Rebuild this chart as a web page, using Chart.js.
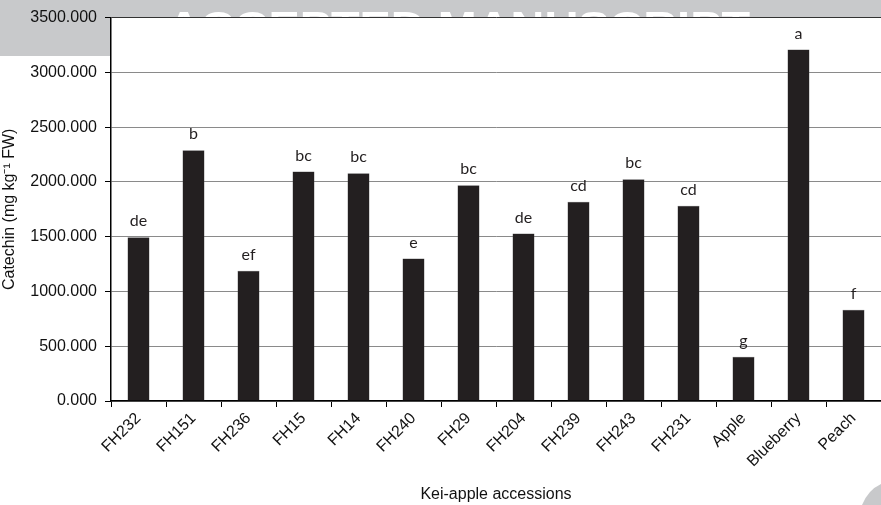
<!DOCTYPE html>
<html>
<head>
<meta charset="utf-8">
<script src="https://cdn.jsdelivr.net/npm/chart.js@4/dist/chart.umd.min.js"></script>
<style>
  html, body { margin: 0; padding: 0; background: #fff; }
  #wrap { width: 881px; height: 505px; }
</style>
</head>
<body>
<div id="wrap"><canvas id="catechinChart" width="881" height="505"></canvas></div>
<script>
// accessions on the x axis
const accessions = ["FH232", "FH151", "FH236", "FH15", "FH14", "FH240", "FH29",
  "FH204", "FH239", "FH243", "FH231", "Apple", "Blueberry", "Peach"];
// catechin values (mg kg-1 FW)
const catechin = [1495, 2290, 1190, 2095, 2080, 1300, 1970,
  1530, 1818, 2024, 1782, 403, 3209, 833];
// significance letters above each bar
const letters = ["de", "b", "ef", "bc", "bc", "e", "bc",
  "de", "cd", "bc", "cd", "g", "a", "f"];
// y axis ticks
const yTicks = [0, 500, 1000, 1500, 2000, 2500, 3000, 3500];

const axisFont = { family: "'Liberation Sans', Arial, sans-serif", size: 16 };
const GRAY = "#c8c9cb";

// gray watermark band + white "ACCEPTED MANUSCRIPT" behind the plot
const watermark = {
  id: "watermark",
  beforeDraw(chart) {
    const c = chart.ctx;
    const top = chart.chartArea.top;
    const left = chart.chartArea.left;
    c.save();
    c.fillStyle = "#fff";
    c.fillRect(0, 0, chart.width, chart.height);
    c.fillStyle = GRAY;
    c.fillRect(0, 0, chart.width, top);
    c.fillRect(0, 0, left, 56);
    // white text, only visible above the plot area
    c.beginPath();
    c.rect(0, 0, chart.width, top);
    c.clip();
    c.fillStyle = "#fff";
    c.font = "bold 40px 'Liberation Sans', Arial, sans-serif";
    const txt = "ACCEPTED MANUSCRIPT";
    const w = c.measureText(txt).width;
    c.save();
    c.translate(167, 9);
    c.scale(583 / w, 1);
    c.textBaseline = "top";
    c.fillText(txt, 0, 0);
    c.restore();
    c.restore();
    // page curl bottom right
    c.save();
    c.fillStyle = GRAY;
    c.beginPath();
    c.moveTo(862, chart.height);
    c.quadraticCurveTo(868, 490, chart.width, 484);
    c.lineTo(chart.width, chart.height);
    c.closePath();
    c.fill();
    c.restore();
  }
};

// letters above the bars
const barLetters = {
  id: "barLetters",
  afterDatasetsDraw(chart) {
    const c = chart.ctx;
    const meta = chart.getDatasetMeta(0);
    c.save();
    c.fillStyle = "#231f20";
    c.font = "16px Lato, 'Open Sans', sans-serif";
    c.textAlign = "center";
    c.textBaseline = "bottom";
    meta.data.forEach((bar, i) => {
      c.fillText(letters[i], bar.x, bar.y - 8);
    });
    c.restore();
  }
};

new Chart(document.getElementById("catechinChart"), {
  type: "bar",
  data: {
    labels: accessions,
    datasets: [{
      data: catechin,
      backgroundColor: "#231f20",
      borderColor: "#555",
      borderWidth: 0.5,
      barPercentage: 0.4,
      categoryPercentage: 1.0,
    }],
  },
  options: {
    responsive: false,
    animation: false,
    layout: { padding: { top: 16, right: 0, left: 0, bottom: 1 } },
    plugins: {
      legend: { display: false },
      tooltip: { enabled: false },
    },
    scales: {
      x: {
        afterFit: (s) => { s.height = 103; },
        border: { color: "#000", width: 1.5 },
        grid: {
          offset: true,
          drawOnChartArea: false,
          tickColor: "#000",
          tickLength: 6,
        },
        ticks: {
          color: "#111",
          font: axisFont,
          minRotation: 45,
          maxRotation: 45,
          padding: 2,
        },
        title: {
          display: true,
          text: "Kei-apple accessions",
          color: "#111",
          font: axisFont,
          padding: { top: 6, bottom: 0 },
        },
      },
      y: {
        min: 0,
        max: 3500,
        afterFit: (s) => { s.width = 111; },
        afterBuildTicks: (s) => { s.ticks = yTicks.map((v) => ({ value: v })); },
        border: { color: "#000", width: 1.5 },
        grid: {
          color: (ctx) => (ctx.tick && ctx.tick.value === 3500 ? "#333" : "#8a8a8a"),
          tickColor: "#000",
          tickLength: 6,
        },
        ticks: {
          color: "#111",
          font: axisFont,
          padding: 8,
          callback: (v) => Number(v).toFixed(3),
        },
        title: {
          display: true,
          text: "Catechin (mg kg\u207B\u00B9 FW)",
          color: "#111",
          font: axisFont,
          padding: { top: 0, bottom: 2 },
        },
      },
    },
  },
  plugins: [watermark, barLetters],
});
</script>
</body>
</html>
